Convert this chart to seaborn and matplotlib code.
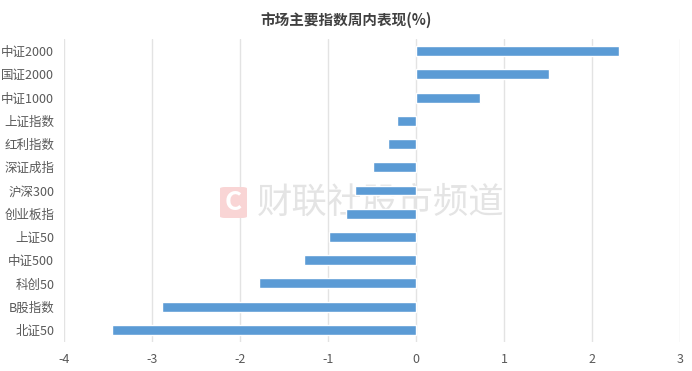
import matplotlib
matplotlib.use("Agg")
import matplotlib.pyplot as plt
from matplotlib.patches import FancyBboxPatch
import seaborn as sns
import pandas as pd

categories = ["中证2000", "国证2000", "中证1000", "上证指数", "红利指数", "深证成指",
              "沪深300", "创业板指", "上证50", "中证500", "科创50", "B股指数", "北证50"]
values = [2.31, 1.51, 0.73, -0.22, -0.32, -0.49, -0.69, -0.79, -0.99, -1.27, -1.78, -2.89, -3.45]
xticks = [-4, -3, -2, -1, 0, 1, 2, 3]
title = "市场主要指数周内表现(%)"

sns.set_theme(style="white")
plt.rcParams['font.family'] = ['Noto Sans CJK SC', 'DejaVu Sans']
plt.rcParams['axes.unicode_minus'] = False

df = pd.DataFrame({"name": categories, "value": values})

W, H = 692, 371
fig = plt.figure(figsize=(6.92, 3.71), dpi=100)
ax = fig.add_axes([64/W, 1-341.6/H, (680-64)/W, (341.6-39.4)/H])

sns.barplot(data=df, x="value", y="name", orient="h", color="#5b9bd5",
            saturation=1, width=0.43, ax=ax, zorder=3)

ax.set_xlim(-4, 3)
ax.set_xticks(xticks)
ax.set_xticklabels([str(t) for t in xticks])
ax.set_xlabel("")
ax.set_ylabel("")
for s in ax.spines.values():
    s.set_visible(False)
ax.grid(axis="x", color="#e3e3e3", linewidth=1, zorder=0)
ax.set_axisbelow(True)
ax.tick_params(axis="both", length=0, colors="#595959", labelsize=9)
ax.tick_params(axis="x", pad=8)
ax.tick_params(axis="y", pad=7)
for lbl in ax.get_xticklabels() + ax.get_yticklabels():
    lbl.set_color("#595959")

fig.text(0.5, 1-20/H, title, ha="center", va="center", fontsize=10.5,
         fontweight="bold", color="#404040")

# watermark (behind bars)
logo = FancyBboxPatch((220/W, 1-218/H), 27/W, 31/H,
                      boxstyle="round,pad=0,rounding_size=0.008",
                      transform=fig.transFigure, fc="#f9d5d5", ec="none",
                      zorder=1, clip_on=False, mutation_aspect=H/W)
ax.add_patch(logo)
ax.text(233.5/W, 1-203/H, "C", transform=fig.transFigure, ha="center", va="center",
        fontsize=19, fontweight="bold", color="white", zorder=1.5, clip_on=False)
ax.text(257/W, 1-203/H, "财联社股市频道", transform=fig.transFigure, ha="left",
        va="center", fontsize=25.5, color="#e4e4e4", zorder=1, clip_on=False)

fig.savefig("out.png", dpi=100)
